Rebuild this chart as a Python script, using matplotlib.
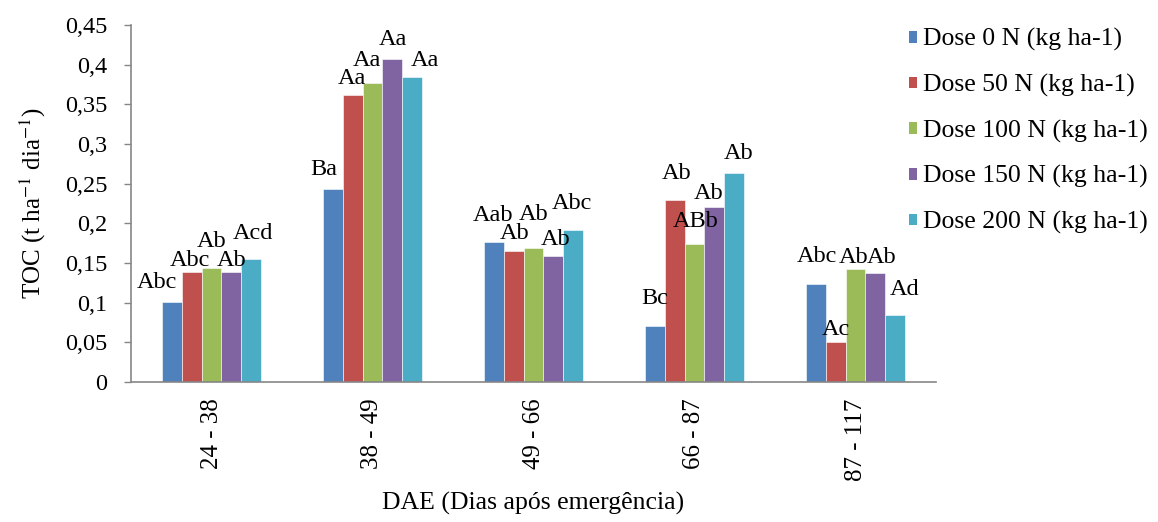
import numpy as np
import matplotlib
matplotlib.use("Agg")
import matplotlib.pyplot as plt
from matplotlib.patches import Patch
from matplotlib.ticker import FuncFormatter, MultipleLocator

periods = ["24 - 38", "38 - 49", "49 - 66", "66 - 87", "87 - 117"]
series_names = [
    "Dose 0 N (kg ha-1)",
    "Dose 50 N (kg ha-1)",
    "Dose 100 N (kg ha-1)",
    "Dose 150 N (kg ha-1)",
    "Dose 200 N (kg ha-1)",
]
dose_0 = [0.101, 0.243, 0.177, 0.071, 0.124]
dose_50 = [0.139, 0.362, 0.165, 0.230, 0.051]
dose_100 = [0.144, 0.377, 0.169, 0.174, 0.142]
dose_150 = [0.139, 0.407, 0.159, 0.220, 0.137]
dose_200 = [0.155, 0.384, 0.192, 0.263, 0.084]

letters_0 = ["Abc", "Ba", "Aab", "Bc", "Abc"]
letters_50 = ["Abc", "Aa", "Ab", "Ab", "Ac"]
letters_100 = ["Ab", "Aa", "Ab", "ABb", "Ab"]
letters_150 = ["Ab", "Aa", "Ab", "Ab", "Ab"]
letters_200 = ["Acd", "Aa", "Abc", "Ab", "Ad"]

colors = ["#4f81bd", "#c0504d", "#9bbb59", "#8064a2", "#4bacc6"]

# label nudges (dx, dy) in pixels from the top centre of each bar, per series
nudges = [
    [(-15, 19), (-9, 20), (-1, 26), (0, 27), (1, 27)],
    [(-2, 11), (-1, 16), (1, 18), (2, 26), (0, 12)],
    [(0, 26), (-6, 22), (0, 33), (1, 22), (-2, 12)],
    [(0, 11), (0, 20), (2, 16), (-6, 14), (6, 16)],
    [(2, 26), (13, 17), (-1, 26), (4, 20), (9, 26)],
]

plt.rcParams["font.family"] = ["Liberation Serif", "DejaVu Serif"]
plt.rcParams["mathtext.fontset"] = "stix"

values = [dose_0, dose_50, dose_100, dose_150, dose_200]
letters = [letters_0, letters_50, letters_100, letters_150, letters_200]

fig = plt.figure(figsize=(11.58, 5.22), dpi=100)
ax = fig.add_axes([131 / 1158, 1 - 382 / 522, 805 / 1158, 357 / 522])

x = np.arange(len(periods))
width = 0.124
px = 0.72  # points per pixel at dpi 100
for k, (vals, labs, col) in enumerate(zip(values, letters, colors)):
    xs = x + (k - 2) * width
    ax.bar(xs, vals, width, color=col, edgecolor="white", linewidth=0.4)
    for i, (xv, v, lab) in enumerate(zip(xs, vals, labs)):
        dx, dy = nudges[k][i]
        ax.annotate(lab, (xv, v), xytext=(dx * px, dy * px), textcoords="offset points",
                    ha="center", va="center", fontsize=17.5)

ax.set_xlim(-0.5, len(periods) - 0.5)
ax.set_ylim(0, 0.45)
ax.yaxis.set_major_locator(MultipleLocator(0.05))
ax.yaxis.set_major_formatter(FuncFormatter(lambda v, p: f"{round(v, 2):g}".replace(".", ",")))
ax.set_xticks(x)
ax.set_xticklabels(periods, rotation=90, va="top", ha="center")
ax.tick_params(axis="x", length=0, pad=12, labelsize=18)
ax.tick_params(axis="y", length=5, pad=12, labelsize=17.5, color="#868686", width=1)
for side in ("top", "right"):
    ax.spines[side].set_visible(False)
for side in ("left", "bottom"):
    ax.spines[side].set_color("#868686")
    ax.spines[side].set_linewidth(1.2)

ax.set_ylabel("TOC (t ha$^{-1}$ dia$^{-1}$)", fontsize=18, labelpad=12)
ax.set_xlabel("DAE (Dias após emergência)", fontsize=18.5, labelpad=8)

handles = [Patch(facecolor=c, edgecolor="none") for c in colors]
fig.legend(handles, series_names, loc="upper left", bbox_to_anchor=(899 / 1158, 1 - 18 / 522),
           frameon=False, fontsize=18.5, handlelength=0.32, handleheight=0.32,
           handletextpad=0.2, labelspacing=0.88, borderaxespad=0.0)

fig.savefig("out.png", dpi=100)
